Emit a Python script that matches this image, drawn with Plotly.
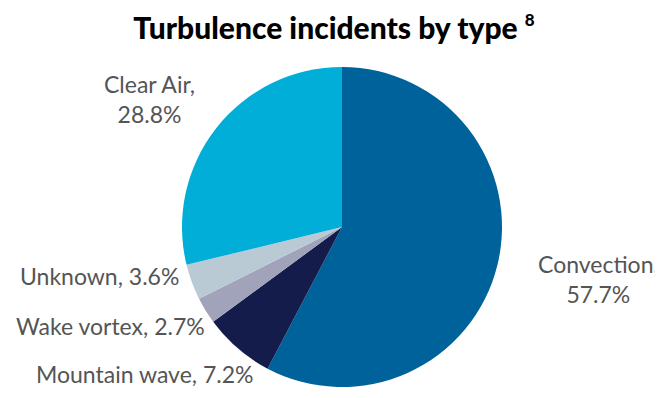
import plotly.graph_objects as go

categories = ["Convection", "Mountain wave", "Wake vortex", "Unknown", "Clear Air"]
values = [57.7, 7.2, 2.7, 3.6, 28.8]
colors = ["#00629b", "#141c4b", "#a0a3b9", "#b9cad5", "#00aed8"]

# label placement (pixel centres), text built from data
label_pos = {
    "Convection": (590, 271, True),
    "Mountain wave": (136, 366, False),
    "Wake vortex": (102, 318, False),
    "Unknown": (91, 268, False),
    "Clear Air": (141, 91, True),
}

W, H = 663, 398
cx, cy, r = 334, 219, 160

fig = go.Figure(go.Pie(
    labels=categories, values=values, sort=False, direction="clockwise",
    rotation=0, marker=dict(colors=colors, line=dict(width=0)),
    textinfo="none", hoverinfo="label+percent", showlegend=False,
    domain=dict(x=[(cx - r) / W, (cx + r) / W], y=[(H - cy - r) / H, (H - cy + r) / H]),
))

annotations = []
for c, v in zip(categories, values):
    px, py, two = label_pos[c]
    txt = f"{c},<br>{v:.1f}%" if two else f"{c}, {v:.1f}%"
    annotations.append(dict(
        x=px / W, y=1 - py / H, xref="paper", yref="paper", text=txt,
        showarrow=False, xanchor="center", yanchor="middle", align="center",
        font=dict(family="Lato", size=23, weight=400, color="#555555"),
    ))

fig.update_layout(
    width=W, height=H, margin=dict(l=0, r=0, t=0, b=0),
    paper_bgcolor="white", plot_bgcolor="white",
    title=dict(text="Turbulence incidents by type <sup><span style='font-size:17px'>8</span></sup>",
               x=326 / W, xanchor="center", y=1 - 20 / H, yanchor="middle",
               font=dict(family="Lato", size=30, weight=900, color="black")),
    annotations=annotations,
)
fig.write_html("out.html")
